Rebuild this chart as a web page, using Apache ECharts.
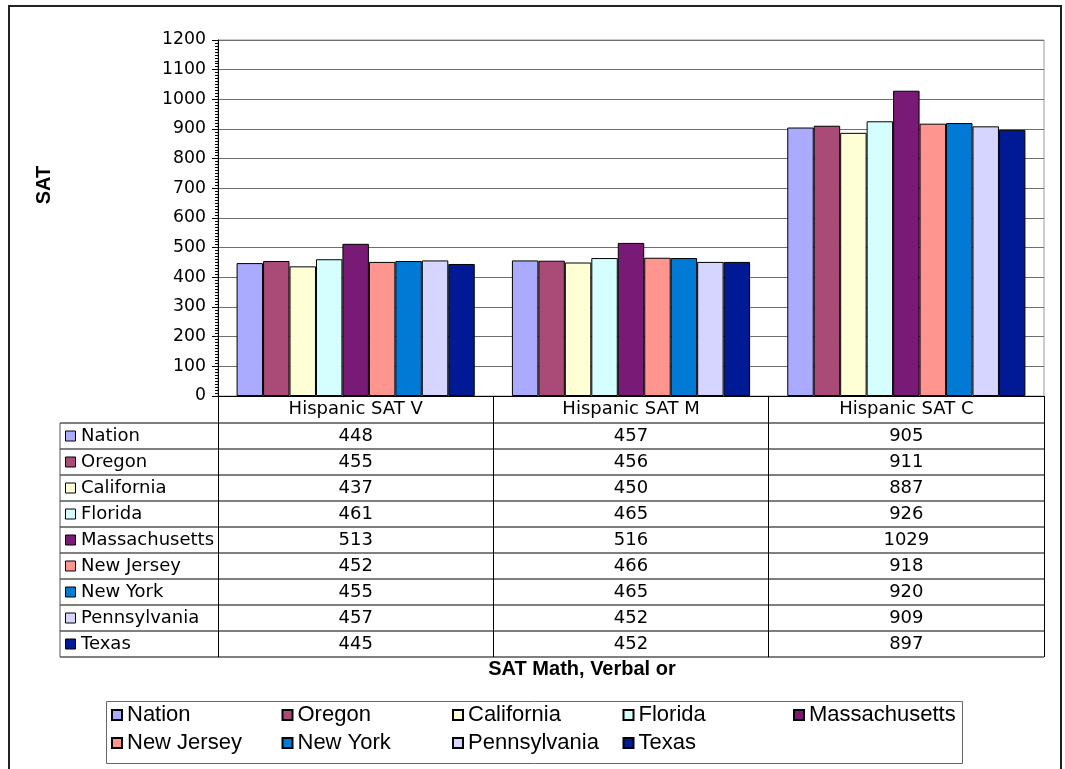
<!DOCTYPE html>
<html>
<head>
<meta charset="utf-8">
<script src="https://cdn.jsdelivr.net/npm/echarts@6/dist/echarts.min.js"></script>
<style>
  html, body { margin: 0; padding: 0; background: #fff; }
  #chart { width: 1065px; height: 769px; }
</style>
</head>
<body>
<div id="chart"></div>
<script>
const categories = ["Hispanic SAT V", "Hispanic SAT M", "Hispanic SAT C"];
const states = ["Nation", "Oregon", "California", "Florida", "Massachusetts", "New Jersey", "New York", "Pennsylvania", "Texas"];
const nation = [448, 457, 905];
const oregon = [455, 456, 911];
const california = [437, 450, 887];
const florida = [461, 465, 926];
const massachusetts = [513, 516, 1029];
const newJersey = [452, 466, 918];
const newYork = [455, 465, 920];
const pennsylvania = [457, 452, 909];
const texas = [445, 452, 897];
const yTicks = [0, 100, 200, 300, 400, 500, 600, 700, 800, 900, 1000, 1100, 1200];

const values = [nation, oregon, california, florida, massachusetts, newJersey, newYork, pennsylvania, texas];
const colors = ["#aaaaff", "#aa4a77", "#ffffd5", "#d5ffff", "#7a1a77", "#ff958f", "#007ad5", "#d5d5ff", "#001a95"];

const tableFont = "DejaVu Sans, Verdana, sans-serif";
const legendFont = "Liberation Sans, Arial, sans-serif";
const tableLeft = 60;
const tableRight = 1044;
const headerBottom = 423;
const rowH = 26;

// legend laid out as 5 columns x 2 rows, like the original
const legendCols = 5;
const legendLeft = 111;
const legendColW = 170.5;
const legends = [];
for (let c = 0; c < legendCols; c++) {
  const names = states.filter((_, i) => i % legendCols === c);
  legends.push({
    data: names,
    orient: "vertical",
    left: legendLeft + c * legendColW,
    top: 704,
    padding: 0,
    itemWidth: 10,
    itemHeight: 10,
    itemGap: 6,
    icon: "rect",
    textStyle: { fontFamily: legendFont, fontSize: 22, color: "#000" },
  });
}

const chartDom = document.getElementById("chart");
const chart = echarts.init(chartDom, null, { renderer: "canvas" });

chart.setOption({
  animation: false,
  backgroundColor: "#fff",
  grid: {
    left: 218,
    right: 1065 - tableRight,
    top: 40,
    bottom: 769 - 396,
    show: true,
    borderColor: "#999",
    borderWidth: 1,
  },
  legend: legends,
  xAxis: {
    type: "category",
    data: categories,
    axisLine: { lineStyle: { color: "#000", width: 1 } },
    axisTick: { show: true, length: 657 - 396, lineStyle: { color: "#000" } },
    axisLabel: {
      margin: 4,
      fontFamily: tableFont,
      fontSize: 18,
      color: "#000",
    },
  },
  yAxis: {
    type: "value",
    min: 0,
    max: 1200,
    interval: 100,
    axisLine: { show: true, lineStyle: { color: "#000" } },
    axisTick: { show: true, length: 6, lineStyle: { color: "#000" } },
    minorTick: { show: true, splitNumber: 10, length: 3, lineStyle: { color: "#000" } },
    splitLine: { lineStyle: { color: "#6e6e6e", width: 1 } },
    axisLabel: {
      margin: 12,
      fontFamily: tableFont,
      fontSize: 17.3,
      color: "#000",
      formatter: (v) => (yTicks.includes(v) ? String(v) : ""),
    },
  },
  series: states.map((name, i) => ({
    name,
    type: "bar",
    data: values[i],
    barGap: "0%",
    barCategoryGap: "13.5%",
    itemStyle: { color: colors[i], borderColor: "#000", borderWidth: 1 },
  })),
});

// data table, outer frame, legend box and axis titles
const graphics = [];
graphics.push({
  type: "rect",
  shape: { x: 9, y: 6, width: 1052, height: 800 },
  style: { fill: null, stroke: "#222", lineWidth: 2 },
  silent: true,
});
graphics.push({
  type: "rect",
  shape: { x: 106.5, y: 701.5, width: 856, height: 62 },
  style: { fill: null, stroke: "#666", lineWidth: 1 },
  silent: true,
});
for (let i = 0; i <= states.length; i++) {
  const y = headerBottom + i * rowH;
  graphics.push({
    type: "line",
    shape: { x1: tableLeft, y1: y, x2: tableRight, y2: y },
    style: { stroke: "#000", lineWidth: 1 },
    silent: true,
  });
}
graphics.push({
  type: "line",
  shape: { x1: tableLeft, y1: headerBottom, x2: tableLeft, y2: headerBottom + states.length * rowH },
  style: { stroke: "#555", lineWidth: 1 },
  silent: true,
});
states.forEach((name, i) => {
  const cy = headerBottom + i * rowH + rowH / 2;
  graphics.push({
    type: "rect",
    shape: { x: 65.5, y: cy - 5, width: 10, height: 10 },
    style: { fill: colors[i], stroke: "#000", lineWidth: 1 },
    silent: true,
  });
  graphics.push({
    type: "text",
    x: 81,
    y: cy,
    style: { text: name, font: "18px " + tableFont, fill: "#000", textVerticalAlign: "middle" },
    silent: true,
  });
  values[i].forEach((v, j) => {
    const cx = chart.convertToPixel({ xAxisIndex: 0 }, categories[j]);
    graphics.push({
      type: "text",
      x: cx,
      y: cy,
      style: { text: String(v), font: "18px " + tableFont, fill: "#000", textAlign: "center", textVerticalAlign: "middle" },
      silent: true,
    });
  });
});
graphics.push({
  type: "text",
  x: 582,
  y: 669,
  style: { text: "SAT Math, Verbal or", font: "bold 20px " + legendFont, fill: "#000", textAlign: "center", textVerticalAlign: "middle" },
  silent: true,
});
graphics.push({
  type: "text",
  x: 44,
  y: 185,
  rotation: Math.PI / 2,
  style: { text: "SAT", font: "bold 20px " + legendFont, fill: "#000", textAlign: "center", textVerticalAlign: "middle" },
  silent: true,
});
chart.setOption({ graphic: graphics });
</script>
</body>
</html>
